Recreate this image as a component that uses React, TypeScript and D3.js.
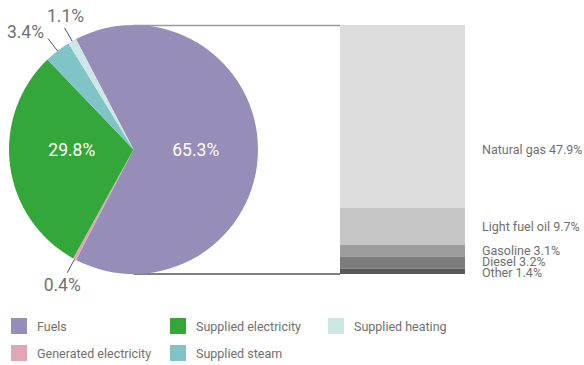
import React from "react";
import * as d3 from "d3";

// Energy use by source (share of total, %)
const categories = [
  "Fuels",
  "Generated electricity",
  "Supplied electricity",
  "Supplied steam",
  "Supplied heating",
];
const shares = [65.3, 0.4, 29.8, 3.4, 1.1];
const sliceColors = ["#968db8", "#e0a6b3", "#34a73b", "#80c4c8", "#cde6e6"];

// Breakdown of the fuels slice
const fuelTypes = ["Natural gas", "Light fuel oil", "Gasoline", "Diesel", "Other"];
const fuelShares = [47.9, 9.7, 3.1, 3.2, 1.4];
const fuelColors = ["#dcdcdc", "#c6c6c6", "#9d9d9d", "#7c7c7c", "#585858"];

// Legend layout: [column, row] per category
const legendSlots: [number, number][] = [
  [0, 0],
  [0, 1],
  [1, 0],
  [1, 1],
  [2, 0],
];

const W = 584;
const H = 365;
const FONT = "Roboto, 'DejaVu Sans', sans-serif";
const TEXT = "#6f6f6f";

const fmt = (v: number) => `${v.toFixed(1)}%`;

export default function App() {
  const cx = 133.5;
  const cy = 149.5;
  const R = 124.5;

  const fuelsShare = shares[0];
  const fuelsSweep = (fuelsShare / 100) * Math.PI * 2;
  // rotate so the fuels slice is centred on the right-hand side
  const start = Math.PI / 2 - fuelsSweep / 2;

  const pie = d3
    .pie<number>()
    .sort(null)
    .value((d) => d)
    .startAngle(start)
    .endAngle(start + Math.PI * 2);
  const arcs = pie(shares);
  const arcGen = d3.arc<d3.PieArcDatum<number>>().innerRadius(0).outerRadius(R);

  const polar = (a: number, r: number): [number, number] => [
    cx + r * Math.sin(a),
    cy - r * Math.cos(a),
  ];

  // stacked bar for the fuel breakdown
  const barX0 = 340;
  const barX1 = 465;
  const barTop = cy - R;
  const barBottom = cy + R;
  const total = d3.sum(fuelShares);
  const y = d3.scaleLinear().domain([0, total]).range([barTop, barBottom]);
  const cum = d3.cumsum(fuelShares);
  const segs = fuelShares.map((v, i) => ({
    name: fuelTypes[i],
    value: v,
    color: fuelColors[i],
    y0: y(cum[i] - v),
    y1: y(cum[i]),
  }));

  // label positions: segment centres, pushed apart from the bottom up
  const labelY: number[] = new Array(segs.length);
  const gap = 10.5;
  for (let i = segs.length - 1; i >= 0; i--) {
    const c = (segs[i].y0 + segs[i].y1) / 2;
    const yy = i === segs.length - 1 ? Math.min(c + 3, barBottom - 2) : Math.min(c, labelY[i + 1] - gap);
    labelY[i] = yy;
  }
  // the largest segment's label sits on the bar's midline
  labelY[0] = Math.max(labelY[0], cy);

  const smallLabel = (i: number) => {
    const a = arcs[i];
    const mid = (a.startAngle + a.endAngle) / 2;
    const [x1, y1] = polar(mid, R);
    const [x2, y2] = polar(mid, 140);
    let tx = x2;
    let ty = y2;
    let anchor: "start" | "middle" | "end" = "middle";
    const deg = ((mid * 180) / Math.PI + 360) % 360;
    if (deg > 300 && deg < 326) {
      anchor = "end";
      tx = x2 - 4;
      ty = y2 - 1;
    } else if (deg >= 326) {
      tx = x2 + 1;
      ty = y2 - 6;
    } else {
      tx = x2 - 5;
      ty = y2 + 18;
    }
    return (
      <g key={`sl-${i}`}>
        <line x1={x1} y1={y1} x2={x2} y2={y2} stroke="#555" strokeWidth={1} />
        <text x={tx} y={ty} textAnchor={anchor} fontSize={17.5} fill={TEXT} fontFamily={FONT}>
          {fmt(shares[i])}
        </text>
      </g>
    );
  };

  return (
    <svg
      width={W}
      height={H}
      style={{ position: "absolute", left: 0, top: 0, background: "#fff" }}
      fontFamily={FONT}
    >
      {/* connectors from the pie to the bar */}
      <line x1={cx} y1={barTop + 0.5} x2={barX0} y2={barTop + 0.5} stroke="#9a9a9a" strokeWidth={1.5} />
      <line x1={cx} y1={barBottom} x2={barX0} y2={barBottom} stroke="#555" strokeWidth={1.5} />

      <g transform={`translate(${cx},${cy})`}>
        {arcs.map((a, i) => (
          <path key={categories[i]} d={arcGen(a) ?? ""} fill={sliceColors[i]} />
        ))}

        {/* large slices: value centred horizontally at the centroid, on the pie's midline */}
        {arcs.map((a, i) => {
          if (shares[i] < 10) return null;
          const [x] = arcGen.centroid(a);
          return (
            <text
              key={`in-${i}`}
              x={x}
              y={0}
              dy="0.36em"
              textAnchor="middle"
              fontSize={17.5}
              fill="#fff"
            >
              {fmt(shares[i])}
            </text>
          );
        })}
      </g>

      {arcs.map((_, i) => (shares[i] < 10 ? smallLabel(i) : null))}

      {segs.map((s) => (
        <rect key={s.name} x={barX0} y={s.y0} width={barX1 - barX0} height={s.y1 - s.y0} fill={s.color} />
      ))}
      {segs.map((s, i) => (
        <text key={`bl-${s.name}`} x={482} y={labelY[i]} dy="0.36em" fontSize={12.5} fill={TEXT}>
          {`${s.name} ${fmt(s.value)}`}
        </text>
      ))}

      {categories.map((c, i) => {
        const [col, row] = legendSlots[i];
        const lx = [11, 170, 328][col];
        const ly = 318 + row * 27;
        return (
          <g key={`lg-${c}`}>
            <rect x={lx} y={ly} width={16} height={16} fill={sliceColors[i]} />
            <text x={lx + 26} y={ly + 8} dy="0.36em" fontSize={12.5} fill={TEXT}>
              {c}
            </text>
          </g>
        );
      })}
    </svg>
  );
}
